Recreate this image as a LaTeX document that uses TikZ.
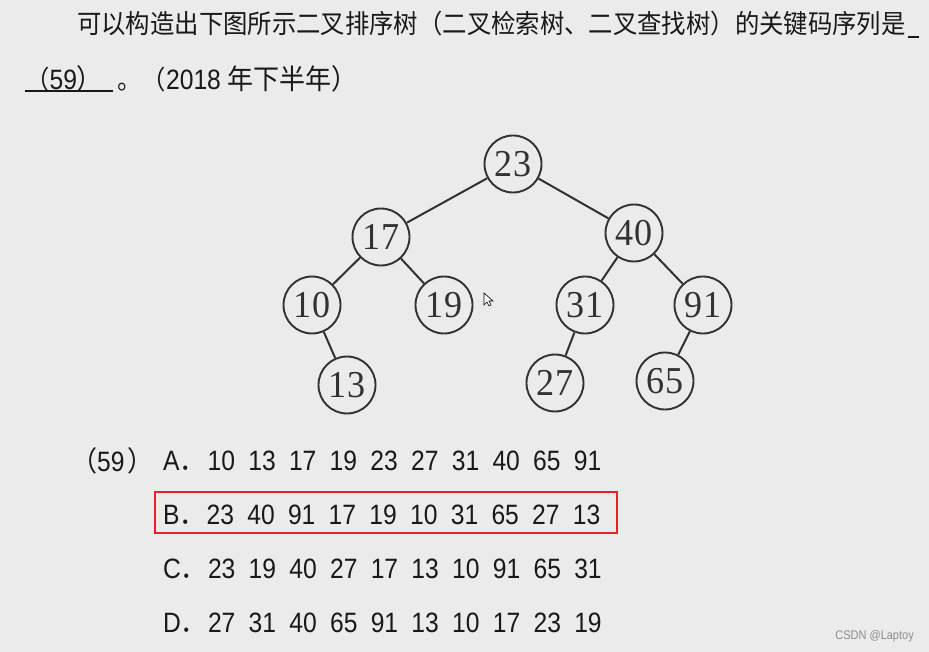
\documentclass[tikz,border=0pt]{standalone}
\usepackage{fontspec}
\usetikzlibrary{positioning}
\setmainfont{Liberation Sans}[FakeStretch=0.88]
\newfontfamily\cjk{Noto Sans CJK SC}[FakeStretch=0.93]
\newfontfamily\treefont{Liberation Serif}[FakeStretch=0.95]
\definecolor{paper}{RGB}{235,235,235}
\definecolor{ink}{RGB}{25,25,25}
\definecolor{treegray}{RGB}{50,50,50}
\definecolor{answerred}{RGB}{232,33,43}
\newcommand{\zh}[1]{{\cjk #1}}
\newcommand{\keyseq}[1]{\foreach \k in {#1}{\makebox[40.7pt][l]{\k}}}

\begin{document}
\begin{tikzpicture}[x=1pt,y=-1pt,
    key/.style={circle,draw=treegray,line width=1.9pt,minimum size=57pt,inner sep=0pt,
      text=treegray,font=\treefont\fontsize{38}{38}\selectfont},
    link/.style={draw=treegray,line width=2pt},
    txt/.style={anchor=west,inner sep=0pt,text=ink,font=\fontsize{26.2}{30}\selectfont},
    opt/.style={txt,font=\fontsize{28}{32}\selectfont}]
  \fill[paper] (0,0) rectangle (929,652);
  \useasboundingbox (0,0) rectangle (929,652);

  % question
  \node[txt] (line1) at (77,24) {\zh{可以构造出下图所示二叉排序树（二叉检索树、二叉查找树）的关键码序列是}};
  \draw[ink,line width=1.3pt] (908,37) -- (919,37);
  \node[txt] (blank) at (25,79) {\zh{（}\fontsize{28}{30}\selectfont 59\zh{）}};
  \draw[ink,line width=1.3pt] (25,91) -- (113,91);
  \node[txt,right=14pt of blank] (year) {\zh{。（}\fontsize{28}{30}\selectfont 2018 \zh{年下半年）}};

  % tree
  \node[key] (n23) at (513,164) {23};
  \node[key,on grid,below left=73pt and 132pt of n23] (n17) {17};
  \node[key,on grid,below right=69pt and 121pt of n23] (n40) {40};
  \node[key,on grid,below left=68pt and 69pt of n17] (n10) {10};
  \node[key,on grid,below right=68pt and 63pt of n17] (n19) {19};
  \node[key,on grid,below left=72pt and 49pt of n40] (n31) {31};
  \node[key,on grid,below right=72pt and 69pt of n40] (n91) {91};
  \node[key,on grid,below right=80pt and 35pt of n10] (n13) {13};
  \node[key,on grid,below left=78pt and 30pt of n31] (n27) {27};
  \node[key,on grid,below left=76pt and 38pt of n91] (n65) {65};
  \draw[link] (n23) -- (n17);
  \draw[link] (n23) -- (n40);
  \draw[link] (n17) -- (n10);
  \draw[link] (n17) -- (n19);
  \draw[link] (n40) -- (n31);
  \draw[link] (n40) -- (n91);
  \draw[link] (n10) -- (n13);
  \draw[link] (n31) -- (n27);
  \draw[link] (n91) -- (n65);
  \draw[fill=white,line width=0.6pt] (484,293) -- (484,305) -- (487,302) -- (489,306)
    -- (491,305) -- (489,301) -- (493,301) -- cycle;

  % options
  \node[opt] (qno) at (71,461) {\zh{（}59\kern3pt\zh{）}};
  \node[opt] (optA) at (163,461) {A\zh{．}\hspace{2pt}\keyseq{10,13,17,19,23,27,31,40,65,91}};
  \node[opt,below=54pt of optA.west,anchor=west] (optB) {B\zh{．}\hspace{1pt}\keyseq{23,40,91,17,19,10,31,65,27,13}};
  \node[opt,below=54pt of optB.west,anchor=west] (optC) {C\zh{．}\hspace{1pt}\keyseq{23,19,40,27,17,13,10,91,65,31}};
  \node[opt,below=54pt of optC.west,anchor=west] (optD) {D\zh{．}\hspace{1pt}\keyseq{27,31,40,65,91,13,10,17,23,19}};
  \draw[answerred,line width=1.6pt] (155,492) rectangle (617,533);

  \node[anchor=east,inner sep=0pt,text=black!45,font=\fontsize{12.5}{13}\selectfont] (wm) at (914,636) {CSDN @Laptoy};
\end{tikzpicture}
\end{document}
